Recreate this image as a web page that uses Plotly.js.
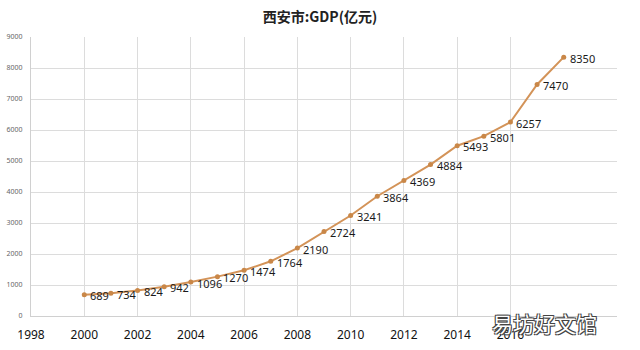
<!DOCTYPE html>
<html>
<head>
<meta charset="utf-8">
<script src="https://cdn.plot.ly/plotly-3.0.1.min.js"></script>
<style>html,body{margin:0;padding:0;background:#fff;}#chart{width:640px;height:350px;}</style>
</head>
<body>
<div id="chart"></div>
<script>
const years = [2000,2001,2002,2003,2004,2005,2006,2007,2008,2009,2010,2011,2012,2013,2014,2015,2016,2017,2018];
const gdp = [689,734,824,942,1096,1270,1474,1764,2190,2724,3241,3864,4369,4884,5493,5801,6257,7470,8350];
const xTicks = [1998,2000,2002,2004,2006,2008,2010,2012,2014,2016];
const yTicks = [0,1000,2000,3000,4000,5000,6000,7000,8000,9000];
const titleText = "西安市:GDP(亿元)";
const watermark = "易坊好文馆";

const trace = {
  x: years, y: gdp, type: "scatter", mode: "lines+markers",
  line: {color: "#d39358", width: 2},
  marker: {color: "#c98748", size: 5},
  cliponaxis: false, hoverinfo: "none"
};
const labelAnns = years.map((yr, i) => ({
  x: yr, y: gdp[i], xref: "x", yref: "y", text: String(gdp[i]),
  showarrow: false, xanchor: "left", yanchor: "middle", xshift: 4, yshift: -1,
  font: {family: "Noto Sans, sans-serif", size: 11, color: "#1a1a1a"}
}));
const layout = {
  width: 640, height: 350,
  margin: {l: 31, r: 23, t: 37, b: 34},
  paper_bgcolor: "#fff", plot_bgcolor: "#fff",
  showlegend: false,
  title: {text: "<b>" + titleText + "</b>", x: 0.5, xanchor: "center", y: 0.95, yanchor: "middle",
          font: {family: "Noto Sans CJK SC, sans-serif", size: 14, color: "#222"}},
  xaxis: {range: [1998, 2020], tickvals: xTicks, ticktext: xTicks.map(String),
          showgrid: true, gridcolor: "#dcdcdc", gridwidth: 1, zeroline: false,
          showline: true, linecolor: "#d0d0d0", mirror: false, ticks: "", ticklabelstandoff: 8,
          tickfont: {family: "Noto Sans, sans-serif", size: 12, color: "#111"}},
  yaxis: {range: [0, 9000], tickvals: yTicks, ticktext: yTicks.map(String),
          showgrid: true, gridcolor: "#dcdcdc", gridwidth: 1, zeroline: false,
          showline: true, linecolor: "#d0d0d0", ticks: "", ticklabelstandoff: 6,
          tickfont: {family: "Noto Sans, sans-serif", size: 7, color: "#666"}},
  annotations: labelAnns.concat([{text: watermark, xref: "paper", yref: "paper", x: 0.97, y: -0.025,
                 xanchor: "right", yanchor: "middle", showarrow: false,
                 font: {family: "Noto Sans CJK SC, sans-serif", size: 21, color: "#ffffff",
                        shadow: "1px 1px 0 #444, -1px -1px 0 #444, 1px -1px 0 #444, -1px 1px 0 #444"}}])
};
Plotly.newPlot("chart", [trace], layout, {displayModeBar: false, staticPlot: true});
</script>
</body>
</html>
